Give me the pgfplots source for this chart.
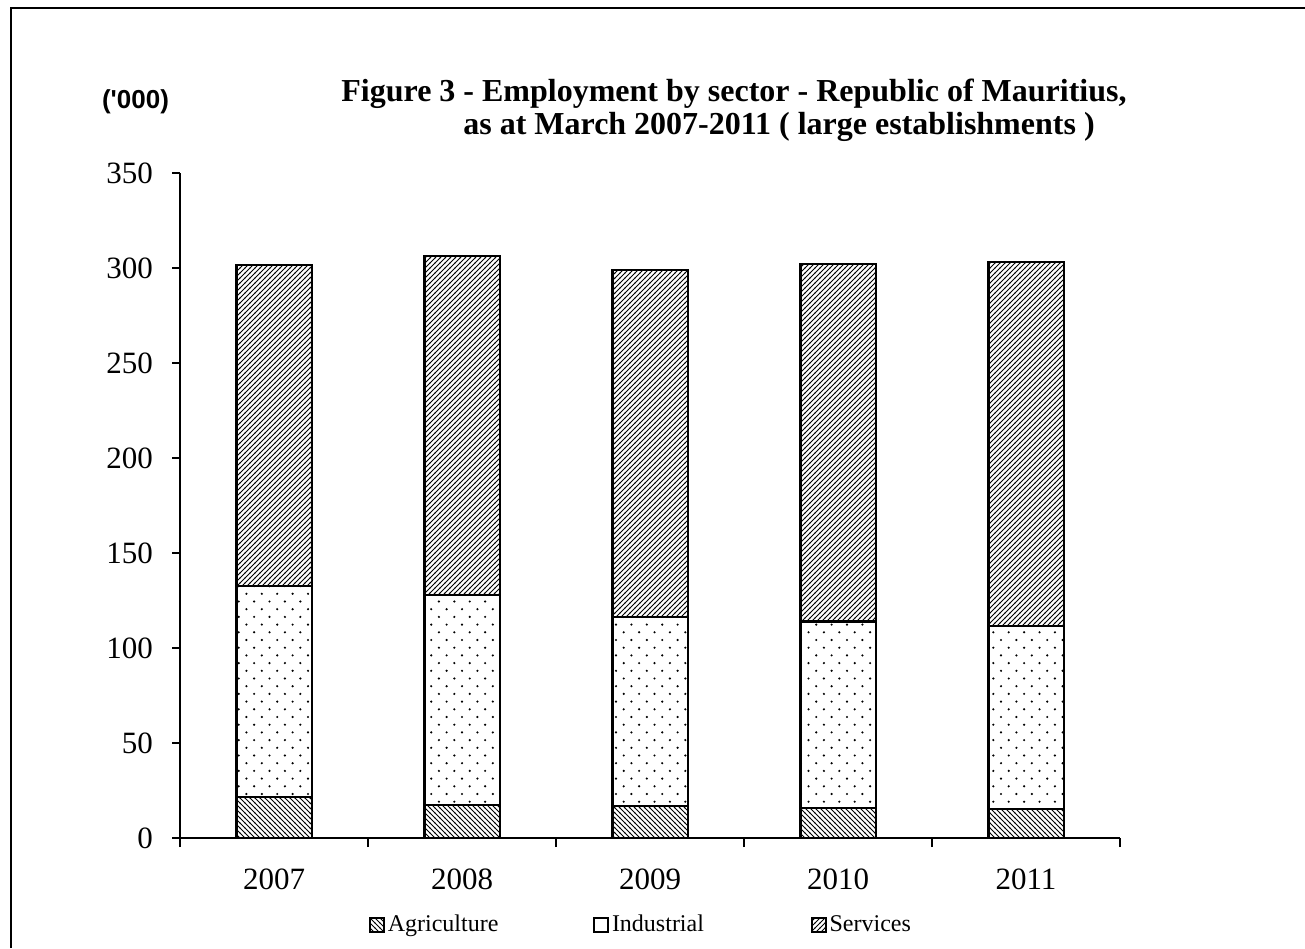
\documentclass[border=0pt]{standalone}
\usepackage{pgfplots}
\pgfplotsset{compat=1.18}
\usepackage{fontspec}
\setmainfont{Liberation Serif}
\newfontfamily\arialfont{Liberation Sans}
\usetikzlibrary{patterns}

\pgfdeclarepatternformonly{nehatch}{\pgfqpoint{-1pt}{-1pt}}{\pgfqpoint{3.5pt}{3.5pt}}{\pgfqpoint{2.5pt}{2.5pt}}{%
 \pgfsetlinewidth{0.45pt}\pgfpathmoveto{\pgfqpoint{-0.1pt}{-0.1pt}}\pgfpathlineto{\pgfqpoint{2.6pt}{2.6pt}}\pgfusepath{stroke}}
\pgfdeclarepatternformonly{nwhatch}{\pgfqpoint{-1pt}{-1pt}}{\pgfqpoint{3.5pt}{3.5pt}}{\pgfqpoint{2.5pt}{2.5pt}}{%
 \pgfsetlinewidth{0.45pt}\pgfpathmoveto{\pgfqpoint{-0.1pt}{2.6pt}}\pgfpathlineto{\pgfqpoint{2.6pt}{-0.1pt}}\pgfusepath{stroke}}
\pgfdeclarepatternformonly{sparsedots}{\pgfqpoint{-1pt}{-1pt}}{\pgfqpoint{8.7pt}{8.7pt}}{\pgfqpoint{7.7pt}{7.7pt}}{%
 \pgfpathcircle{\pgfqpoint{0pt}{0pt}}{0.6pt}\pgfpathcircle{\pgfqpoint{3.85pt}{3.85pt}}{0.6pt}\pgfusepath{fill}}

\begin{document}
\begin{tikzpicture}
\path[use as bounding box] (0,0) rectangle (652.5pt,474pt);
\draw[line width=1pt] (5.5pt,0) -- (5.5pt,470pt) -- (652.5pt,470pt);
\node[font=\bfseries\fontsize{16}{18}\selectfont] at (367pt,427pt) {Figure 3 - Employment by sector - Republic of Mauritius,};
\node[font=\bfseries\fontsize{16}{18}\selectfont] at (389.5pt,410.5pt) {as at March 2007-2011 ( large establishments )};
\node[font=\arialfont\bfseries\fontsize{13}{15}\selectfont] at (67.75pt,423pt) {('000)};
\begin{axis}[
  at={(90pt,55pt)}, anchor=south west,
  width=470pt, height=332.5pt, scale only axis,
  ymin=0, ymax=350, ytick={0,50,...,350},
  xmin=-0.5, xmax=4.5, xtick={0,1,2,3,4},
  xticklabels={2007,2008,2009,2010,2011},
  minor xtick={-0.5,0.5,1.5,2.5,3.5,4.5},
  major x tick style={draw=none},
  axis x line=bottom, axis y line=left,
  axis line style={-, line width=1pt, black},
  tick style={line width=1pt, black},
  tick align=outside,
  major tick length=4pt, minor tick length=4.5pt,
  ybar stacked, bar width=0.4,
  ticklabel style={font=\fontsize{15.5}{18}\selectfont},
  yticklabel style={xshift=-6pt},
  xticklabel style={yshift=-8pt},
  /pgf/number format/assume math mode=true,
  legend style={at={(0.491,-0.131)}, anchor=center, draw=none, fill=none,
    legend columns=3, font=\fontsize{12}{14}\selectfont,
    nodes={inner xsep=1.5pt},
    /tikz/column 2/.style={column sep=46pt},
    /tikz/column 4/.style={column sep=52pt}},
  legend image code/.code={\draw[#1, line width=1pt] (0pt,-3.4pt) rectangle (6.8pt,3.4pt);},
]
\addplot[draw=black, line width=1.1pt, pattern=nwhatch, pattern color=black] coordinates {(0,21.7) (1,17.4) (2,16.8) (3,16.0) (4,15.4)};
\addplot[draw=black, line width=1.1pt, pattern=sparsedots, pattern color=black] coordinates {(0,111.1) (1,110.5) (2,99.4) (3,97.9) (4,96.2)};
\addplot[draw=black, line width=1.1pt, pattern=nehatch, pattern color=black] coordinates {(0,168.9) (1,178.6) (2,182.9) (3,188.2) (4,191.7)};
\legend{Agriculture,Industrial,Services}
\end{axis}
\end{tikzpicture}
\end{document}
